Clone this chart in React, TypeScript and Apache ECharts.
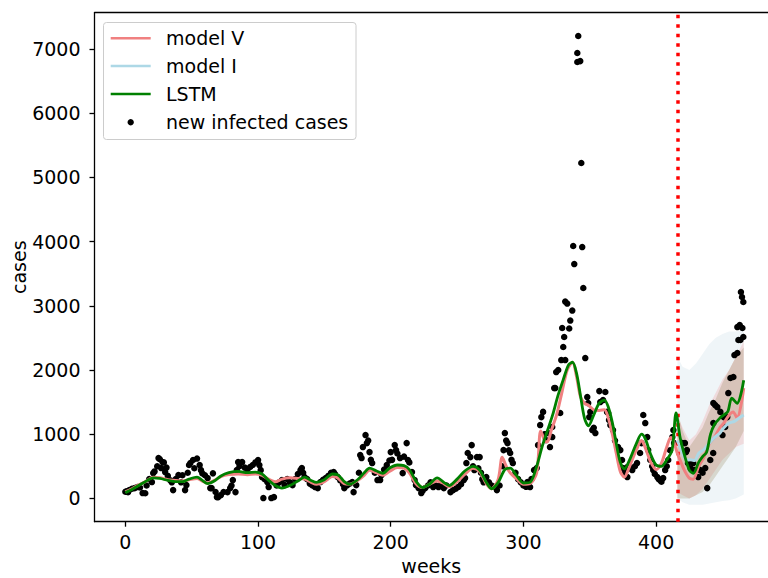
import React, { useEffect, useRef } from "react";
import * as echarts from "echarts";

const FONT = "DejaVu Sans";
const xTicks = [0, 100, 200, 300, 400];
const yTicks = [0, 1000, 2000, 3000, 4000, 5000, 6000, 7000];
const forecastStart = 416;

const infected: number[][] = [
  [0,103],[1,110],[2,95],[3,130],[5,150],[7,160],[9,176],[11,170],[13,83],[15,80],[16,200],[18,300],[20,254],[21,394],[22,420],[24,500],[25,628],[26,610],[27,472],[28,565],[29,560],[30,410],
  [31,480],[32,350],[34,280],[35,250],[36,129],[38,300],[40,363],[42,250],[43,360],[45,129],[46,207],[47,400],[48,520],[49,550],[51,597],[52,470],[54,620],[56,519],[57,440],[58,390],[60,360],[62,316],
  [64,160],[65,160],[66,390],[68,100],[69,20],[70,20],[72,51],[74,100],[77,98],[79,160],[80,200],[81,285],[83,98],[84,441],[85,565],[86,500],[88,565],[90,480],[92,450],[94,488],
  [96,520],[98,560],[100,597],[101,519],[102,440],[103,332],[104,5],[105,300],[107,254],[108,176],[110,5],[112,20],[114,200],[116,250],[118,285],[120,207],[122,300],[124,250],
  [126,207],[128,300],[130,380],[132,441],[133,472],[134,400],[135,332],[137,300],[139,230],[141,200],[143,176],[145,160],[147,254],[149,290],[151,316],[153,350],[155,400],[157,410],[158,380],[160,332],[162,280],[164,220],[165,160],[167,200],[169,230],[171,254],[172,98],
  [174,207],[176,400],[177,674],[178,628],[179,799],[181,986],[182,861],[183,900],[184,721],[185,600],[186,550],[188,400],[190,285],[192,285],[193,363],[195,450],[197,520],[199,590],[200,721],[201,600],[203,830],[204,752],[205,700],[207,628],[209,394],[210,650],[212,861],[213,597],[214,560],[216,410],
  [218,285],[219,207],[221,160],[223,83],[224,120],[226,160],[228,200],[230,250],[232,176],[234,200],[236,176],[238,220],[240,160],[242,200],[245,98],[247,129],[249,150],[251,180],[253,220],[255,285],[256,316],[257,550],[258,706],[260,643],[261,830],[262,500],[263,441],
  [265,643],[266,470],[267,643],[268,400],[269,300],[270,250],[272,332],[274,250],[276,200],[278,180],[280,129],[282,200],[284,500],[285,752],[286,1017],[287,900],[288,861],[289,750],[290,706],[291,600],[292,550],[294,400],[296,300],[298,250],[300,200],[302,180],[303,254],[305,176],[306,300],[308,441],[310,472],[311,830],
  [312.6,1142],[313.5,1266],[314.8,1347],[316,1000],[317,908],[318.6,1017],[320,799],[321.7,1111],[321.7,955],[323.2,1718],[324,1718],[324.7,1967],[326.2,1999],[327.7,1329],[328.5,2154],[329.2,2653],[330,2357],[330.7,2513],[331.5,3065],[331.5,2154],[333,3034],[334.5,2645],[335.3,2769],[336.8,2925],[337.5,3930],[338.3,3649],
  [340.6,6936],[340.6,6796],[341.3,7201],[342.8,6810],[343.6,5223],[344.3,3914],[345.1,3276],[346.6,2185],[348.1,1578],[348.8,1484],[349.6,1266],[350.4,1347],[351.9,1064],[353,1100],[354.2,1017],[357.2,1671],[357.9,1500],[360,1531],[361.7,1656],[363,1347],[363.9,1329],[364.5,1220],[365.5,1142],[367.5,1064],[369,900],
  [371.3,799],[373,752],[374.3,597],[375,472],[376.5,400],[378.3,332],[378.3,488],[380.5,472],[382,441],[384,500],[385.6,550],[387.9,706],[389,860],[390.3,1298],[391.8,1173],[393.3,955],[394,752],[395.6,597],[397,500],[397.8,441],[399,380],[400.9,332],[402,300],[403,285],[404,260],[405.3,316],[406.8,441],[408,500],[409.1,597],[410.5,750],[412.2,955],[413,1064],[413.5,861],
  [420,861],[421.7,861],[422.5,721],[423.2,752],[424,550],[426,470],[427.9,550],[429,441],[431.7,332],[433.2,441],[435,400],[437,472],[438.5,160],[440.8,597],[443,706],[443.1,1173],[443.1,1484],[444.5,1453],[446.1,1422],[448.4,1347],[450,986],[451,1266],[452,1111],[453.6,1266],[454.4,1640],
  [456,1874],[458.2,1890],[459,2232],[461.2,2264],[461.2,2668],[462,2466],[463,2700],[463.5,2466],[463.9,3215],[464.7,3137],[465,2653],[465.7,3059],[465.7,2513]
];

const modelV: number[][] = [
  [0,100],[5,150],[10,210],[15,260],[21,330],[26,320],[32,290],[38,280],[43,270],[48,290],[54,310],[58,270],[62,240],[67,280],[72,340],[78,370],[85,380],[92,370],[98,380],[103,360],[108,300],[113,260],[118,300],[124,320],[130,310],[135,300],[140,250],[144,220],[150,260],[156,340],[160,320],[165,230],[169,220],[175,280],[180,360],[184,440],[189,400],[194,360],[199,420],[205,480],[210,470],[214,400],[219,230],[224,170],[229,220],[235,270],[240,230],[244,180],[250,260],[256,380],[262,470],[267,420],[272,230],[276,150],[281,300],[284,640],[287,500],[290,400],[295,300],[300,220],[305,230],[310,400],[313,1050],[316,900],[318,880],[321,1060],[325,1300],[329,1650],[333,2000],[337,2120],[340,1900],[343,1580],[346,1480],[349,1450],[353,1380],[357,1370],[361,1380],[364,1250],[367,1000],[370,700],[373,420],[376,330],[380,500],[385,750],[389,900],[392,780],[396,560],[400,450],[404,550],[408,800],[411,950],[413,900],[416,700],[418,600],[421,450],[425,316],[428,300],[432,500],[436,640],[440,850],[444,955],[448,1100],[451,1173],[455,1300],[458,1347],[461,1250],[466,1718]
];

const modelI: number[][] = [
  [416,900],[418,800],[421,650],[423,597],[426,600],[429,590],[432,700],[436,760],[440,860],[444,950],[448,1017],[451,1100],[455,1173],[459,1200],[463,1260],[466,1298]
];

const lstm: number[][] = [
  [0,90],[5,140],[10,200],[15,260],[21,320],[26,310],[32,280],[38,260],[43,260],[48,300],[54,330],[58,280],[62,230],[67,270],[72,350],[78,400],[85,420],[92,400],[98,410],[103,380],[108,280],[113,200],[118,160],[124,200],[130,270],[135,330],[140,280],[144,250],[150,290],[156,380],[160,370],[165,260],[169,220],[175,290],[180,400],[184,470],[189,430],[194,390],[199,470],[205,520],[210,510],[214,450],[219,270],[224,170],[229,220],[235,320],[240,250],[244,200],[250,300],[256,430],[262,500],[267,440],[272,250],[276,150],[281,250],[286,450],[290,470],[295,350],[300,240],[305,250],[310,500],[314,800],[318,1050],[322,1300],[326,1600],[330,1850],[334,2080],[337,2120],[340,1950],[343,1600],[346,1250],[349,1130],[353,1300],[357,1480],[361,1530],[364,1420],[367,1180],[370,850],[373,560],[376,460],[380,600],[385,850],[389,1000],[392,920],[396,680],[400,520],[404,500],[408,600],[412,750],[415,1330],[418,955],[421,700],[425,441],[428,390],[432,560],[435,650],[438,720],[441,1000],[444,1150],[448,1250],[451,1300],[454,1350],[457,1560],[461,1480],[466,1840]
];

// [week, lower, upper]
const bandI: number[][] = [
  [416,0,2200],[420,-60,2050],[425,-100,2000],[430,-100,2100],[435,-100,2250],[440,-80,2400],[445,-60,2500],[450,-40,2560],[455,-30,2600],[460,0,2600],[466,60,2620]
];
const bandV: number[][] = [
  [416,100,1300],[420,50,1100],[425,0,900],[430,50,1000],[435,150,1200],[440,300,1450],[445,450,1650],[450,600,1850],[455,700,2000],[460,800,2200],[466,850,2450]
];
const bandLSTM: number[][] = [
  [416,0,1350],[420,0,1050],[425,0,800],[430,50,950],[435,100,1100],[440,200,1350],[445,350,1550],[450,500,1800],[455,650,2000],[460,800,2200],[466,1050,2350]
];

function band(data: number[][], color: string, z: number) {
  return {
    type: "custom",
    data,
    encode: { x: 0, y: [1, 2] },
    silent: true,
    z,
    renderItem: (params: any, api: any) => {
      if (params.dataIndex !== 0) return null;
      const upper = data.map((d) => api.coord([d[0], d[2]]));
      const lower = data.map((d) => api.coord([d[0], d[1]])).reverse();
      return { type: "polygon", shape: { points: upper.concat(lower) }, style: { fill: color } };
    },
  };
}

const X_MIN = -23.25;
const X_MAX = 484.3;

export default function App() {
  const ref = useRef<HTMLDivElement>(null);
  useEffect(() => {
    const chart = echarts.init(ref.current!, undefined, { renderer: "svg" });
    const axisText = { fontFamily: FONT, fontSize: 19, color: "#000" };
    const legendRows = [
      { y: 38.3, label: "model V", color: "#f08080" },
      { y: 66, label: "model I", color: "#add8e6" },
      { y: 94, label: "LSTM", color: "#008000" },
    ];
    const graphic: any[] = [
      { type: "rect", shape: { x: 103.5, y: 22.5, width: 252.5, height: 117, r: 3 }, style: { fill: "rgba(255,255,255,0.8)", stroke: "#cccccc", lineWidth: 1 }, z: 100 },
      ...legendRows.map((r) => ({ type: "line", shape: { x1: 110.7, y1: r.y, x2: 150.7, y2: r.y }, style: { stroke: r.color, lineWidth: 2.6 }, z: 101 })),
      ...legendRows.map((r) => ({ type: "text", x: 166, y: r.y, style: { text: r.label, fontFamily: FONT, fontSize: 19, fill: "#000", verticalAlign: "middle" }, z: 101 })),
      { type: "circle", shape: { cx: 130.7, cy: 122.3, r: 3.2 }, style: { fill: "#000" }, z: 101 },
      { type: "text", x: 166, y: 122.3, style: { text: "new infected cases", fontFamily: FONT, fontSize: 19, fill: "#000", verticalAlign: "middle" }, z: 101 },
    ];
    chart.setOption({
      animation: false,
      backgroundColor: "#fff",
      grid: { left: 94.5, top: 12.7, right: 0, height: 509, containLabel: false, outerBoundsMode: "none", show: false },
      xAxis: [
        {
          type: "value", min: X_MIN, max: X_MAX, position: "bottom",
          name: "weeks", nameLocation: "middle", nameGap: 35, nameTextStyle: axisText,
          axisLine: { show: true, onZero: false, lineStyle: { color: "#000", width: 1.3 } },
          axisTick: { show: true, length: 5, customValues: xTicks, lineStyle: { color: "#000", width: 1.3 } },
          axisLabel: { customValues: xTicks, margin: 11, formatter: (v: number) => String(v), ...axisText },
          splitLine: { show: false },
        },
        {
          type: "value", min: X_MIN, max: X_MAX, position: "top",
          axisLine: { show: true, onZero: false, lineStyle: { color: "#000", width: 1.3 } },
          axisTick: { show: false }, axisLabel: { show: false }, splitLine: { show: false },
        },
      ],
      yAxis: {
        type: "value", min: -363, max: 7564,
        name: "cases", nameLocation: "middle", nameGap: 66, nameMoveOverlap: false, nameRotate: 90, nameTextStyle: axisText,
        axisLine: { show: true, onZero: false, lineStyle: { color: "#000", width: 1.3 } },
        axisTick: { show: true, length: 5, customValues: yTicks, lineStyle: { color: "#000", width: 1.3 } },
        axisLabel: { customValues: yTicks, margin: 14, formatter: (v: number) => String(v), ...axisText },
        splitLine: { show: false },
      },
      graphic,
      series: [
        band(bandI, "rgba(190,215,228,0.25)", 1),
        band(bandV, "rgba(240,128,128,0.22)", 2),
        band(bandLSTM, "rgba(130,110,60,0.22)", 3),
        {
          name: "new infected cases", type: "scatter", data: infected, symbolSize: 6.5,
          itemStyle: { color: "#000", opacity: 1 }, z: 4, silent: true,
        },
        {
          name: "model V", type: "line", data: modelV, symbol: "none", smooth: 0.3,
          lineStyle: { color: "#f08080", width: 3 }, z: 5, silent: true,
        },
        {
          name: "model I", type: "line", data: modelI, symbol: "none", smooth: 0.3,
          lineStyle: { color: "#add8e6", width: 3 }, z: 6, silent: true,
        },
        {
          name: "LSTM", type: "line", data: lstm, symbol: "none", smooth: 0.3,
          lineStyle: { color: "#008000", width: 2.8 }, z: 7, silent: true,
          markLine: {
            silent: true, symbol: "none", label: { show: false },
            lineStyle: { color: "#ff0000", type: [3.5, 6], width: 3.5 },
            data: [{ xAxis: forecastStart }],
          },
        },
      ],
    });
    return () => chart.dispose();
  }, []);
  return <div ref={ref} style={{ position: "fixed", left: 0, top: 0, width: 768, height: 578 }} />;
}
